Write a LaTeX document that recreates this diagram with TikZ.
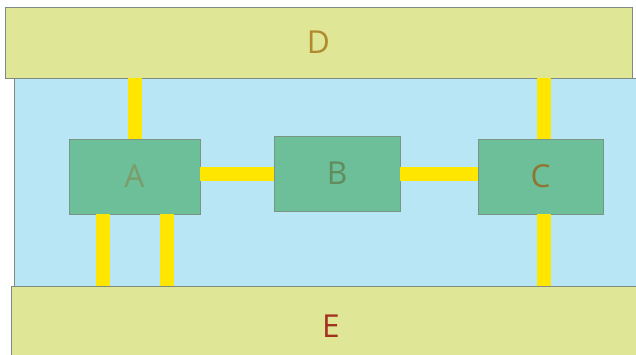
\documentclass[tikz,border=0pt]{standalone}
\usepackage{fontspec}
\setmainfont{Open Sans}
\usetikzlibrary{positioning}
\definecolor{bandfill}{HTML}{DFE796}
\definecolor{panefill}{HTML}{B9E6F4}
\definecolor{unitfill}{HTML}{6CBF98}
\definecolor{linkyellow}{HTML}{FFE600}
\definecolor{rimgrey}{HTML}{7F8A80}
\definecolor{labelD}{HTML}{B08A2C}
\definecolor{labelA}{HTML}{7C9C68}
\definecolor{labelB}{HTML}{608C5E}
\definecolor{labelC}{HTML}{8E7632}
\definecolor{labelE}{HTML}{A3301E}
\tikzset{
    band/.style =   {rectangle,
                    fill=bandfill,
                    draw=rimgrey,
                    line width=0.6pt,
                    inner sep=0pt,
                    font=\fontsize{22.5}{26}\selectfont},
    unit/.style =   {rectangle,
                    fill=unitfill,
                    draw=rimgrey!80!unitfill,
                    line width=0.6pt,
                    inner sep=0pt,
                    minimum height=1.875cm,
                    font=\fontsize{22.5}{26}\selectfont},
    pane/.style =   {fill=panefill,
                    draw=rimgrey,
                    line width=0.6pt},
    link/.style =   {draw=linkyellow,
                    line width=0.35cm}}

\begin{document}
\begin{tikzpicture}
            \useasboundingbox (0,0) rectangle (15.9,8.85);
            \draw[pane] (0.35,1.7) rectangle (16.2,6.9);
            \node[unit,minimum width=3.275cm,text=labelA]  (A) at (3.3625,4.4375) {A};
            \node[unit,minimum width=3.15cm,text=labelB]   (B) at (8.425,4.5125)  {B};
            \node[unit,minimum width=3.125cm,text=labelC]  (C) at (13.5125,4.4375) {C};
            \node[band,minimum width=15.675cm,minimum height=1.775cm,text=labelD] (D) at (7.9625,7.7875) {D};
            \node[band,minimum width=16cm,minimum height=2cm,text=labelE] (E) at (8.275,0.7) {E};
            \coordinate (A1) at ([xshift=-0.8cm]A.south);
            \coordinate (A2) at ([xshift=0.8cm]A.south);
            \coordinate (C1) at ([xshift=0.075cm]C.north);
            \coordinate (C2) at ([xshift=0.075cm]C.south);
            \draw[link]  (A.north) -- (A.north |- D.south);
            \draw[link]  (A1) -- (A1 |- E.north);
            \draw[link]  (A2) -- (A2 |- E.north);
            \draw[link]  (C1) -- (C1 |- D.south);
            \draw[link]  (C2) -- (C2 |- E.north);
            \draw[link]  (B.west -| A.east) -- (B.west);
            \draw[link]  (B.east) -- (B.east -| C.west);
\end{tikzpicture}
\end{document}
